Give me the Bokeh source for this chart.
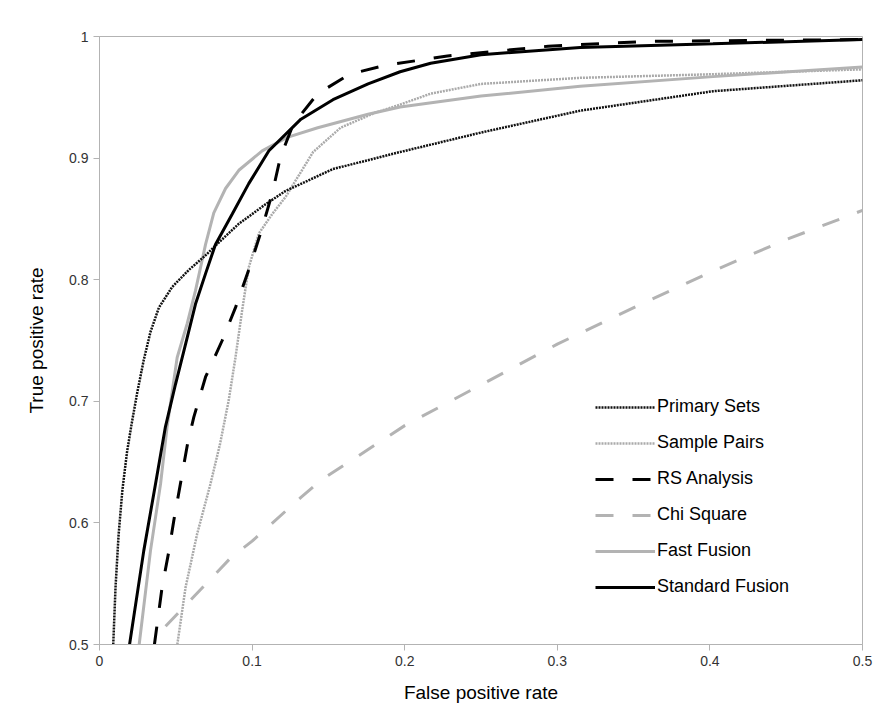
from bokeh.plotting import figure
from bokeh.models import Range1d, FixedTicker, CustomJSTickFormatter, Legend, LegendItem
from bokeh.embed import file_html
from bokeh.resources import INLINE

# ---- data ----
primary_x = [0.009, 0.0105, 0.0125, 0.015, 0.018, 0.021, 0.0247, 0.029, 0.0334, 0.0389, 0.0476, 0.0585, 0.0695, 0.076, 0.0913, 0.1088, 0.1219, 0.153, 0.197, 0.250, 0.315, 0.402, 0.500]
primary_y = [0.500, 0.547, 0.590, 0.627, 0.658, 0.681, 0.707, 0.734, 0.757, 0.777, 0.794, 0.808, 0.820, 0.828, 0.846, 0.862, 0.873, 0.891, 0.905, 0.921, 0.939, 0.955, 0.964]

sample_x = [0.051, 0.0564, 0.064, 0.0727, 0.079, 0.0847, 0.0891, 0.0935, 0.0978, 0.1044, 0.1132, 0.1219, 0.140, 0.158, 0.180, 0.197, 0.217, 0.250, 0.315, 0.402, 0.500]
sample_y = [0.500, 0.547, 0.591, 0.632, 0.665, 0.701, 0.736, 0.775, 0.810, 0.838, 0.854, 0.868, 0.905, 0.925, 0.937, 0.944, 0.953, 0.961, 0.966, 0.969, 0.973]

rs_x = [0.036, 0.041, 0.0455, 0.0487, 0.053, 0.0577, 0.0618, 0.0695, 0.0804, 0.0891, 0.0978, 0.1055, 0.1132, 0.1186, 0.127, 0.143, 0.164, 0.186, 0.228, 0.294, 0.359, 0.500]
rs_y = [0.500, 0.547, 0.577, 0.602, 0.632, 0.665, 0.687, 0.720, 0.750, 0.777, 0.808, 0.838, 0.871, 0.901, 0.928, 0.953, 0.969, 0.976, 0.984, 0.992, 0.996, 0.9975]

chi_x = [0.0433, 0.0858, 0.100, 0.132, 0.145, 0.200, 0.300, 0.355, 0.400, 0.450, 0.500]
chi_y = [0.515, 0.571, 0.585, 0.621, 0.635, 0.680, 0.747, 0.780, 0.806, 0.833, 0.857]

fast_x = [0.026, 0.0334, 0.040, 0.0443, 0.0509, 0.0575, 0.0629, 0.0695, 0.0749, 0.0826, 0.0913, 0.1066, 0.123, 0.143, 0.176, 0.197, 0.250, 0.315, 0.402, 0.500]
fast_y = [0.500, 0.577, 0.632, 0.679, 0.736, 0.764, 0.791, 0.829, 0.855, 0.875, 0.890, 0.906, 0.917, 0.925, 0.936, 0.942, 0.951, 0.959, 0.967, 0.975]

std_x = [0.0197, 0.029, 0.0367, 0.0432, 0.0498, 0.0564, 0.0629, 0.0695, 0.076, 0.087, 0.0978, 0.111, 0.132, 0.153, 0.176, 0.197, 0.217, 0.250, 0.315, 0.402, 0.500]
std_y = [0.500, 0.577, 0.632, 0.679, 0.714, 0.747, 0.780, 0.805, 0.829, 0.854, 0.879, 0.906, 0.932, 0.948, 0.961, 0.971, 0.978, 0.985, 0.991, 0.994, 0.9975]

x_ticks = [0, 0.1, 0.2, 0.3, 0.4, 0.5]
y_ticks = [0.5, 0.6, 0.7, 0.8, 0.9, 1.0]

series_names = ["Primary Sets", "Sample Pairs", "RS Analysis", "Chi Square", "Fast Fusion", "Standard Fusion"]

FONT = "Liberation Sans"
GRAY = "#b3b3b3"

p = figure(width=886, height=718, output_backend="svg", toolbar_location=None,
           x_range=Range1d(0, 0.5), y_range=Range1d(0.5, 1.0))
p.min_border_left = 99
p.min_border_right = 24
p.min_border_top = 36
p.min_border_bottom = 74
p.xgrid.visible = False
p.ygrid.visible = False
p.outline_line_color = GRAY
p.outline_line_width = 1
p.background_fill_color = "white"
p.border_fill_color = "white"

fmt = CustomJSTickFormatter(code="""
if (Math.abs(tick) < 1e-9) return '0';
if (Math.abs(tick - 1) < 1e-9) return '1';
return tick.toFixed(1);
""")

for ax, ticks in ((p.xaxis, x_ticks), (p.yaxis, y_ticks)):
    ax.ticker = FixedTicker(ticks=ticks)
    ax.formatter = fmt
    ax.axis_line_color = GRAY
    ax.major_tick_line_color = GRAY
    ax.minor_tick_line_color = None
    ax.major_tick_out = 6
    ax.major_tick_in = 0
    ax.major_label_text_font = FONT
    ax.major_label_text_font_size = "14px"
    ax.major_label_text_color = "#333333"
    ax.major_label_standoff = 5
    ax.axis_label_text_font = FONT
    ax.axis_label_text_font_size = "19px"
    ax.axis_label_text_font_style = "normal"
    ax.axis_label_text_color = "#000000"

p.xaxis.axis_label = "False positive rate"
p.yaxis.axis_label = "True positive rate"
p.xaxis.axis_label_standoff = 13
p.yaxis.axis_label_standoff = 19

r_chi = p.line(chi_x, chi_y, line_color=GRAY, line_width=3, line_dash="18 19")
r_sample = p.line(sample_x, sample_y, line_color="#aaaaaa", line_width=2.5, line_dash="2 1")
r_fast = p.line(fast_x, fast_y, line_color=GRAY, line_width=3)
r_primary = p.line(primary_x, primary_y, line_color="#111111", line_width=2.5, line_dash="2 1")
r_rs = p.line(rs_x, rs_y, line_color="#000000", line_width=3, line_dash="18 19")
r_std = p.line(std_x, std_y, line_color="#000000", line_width=3)

renderers = [r_primary, r_sample, r_rs, r_chi, r_fast, r_std]
legend = Legend(items=[LegendItem(label=n, renderers=[r]) for n, r in zip(series_names, renderers)],
                location=(496, 47))
legend.glyph_width = 60
legend.glyph_height = 20
legend.label_height = 20
legend.spacing = 15
legend.padding = 0
legend.margin = 0
legend.label_standoff = 2
legend.label_text_font = FONT
legend.label_text_font_size = "18px"
legend.label_text_color = "#000000"
legend.border_line_color = None
legend.background_fill_alpha = 0
p.add_layout(legend)

open("out.html", "w").write(file_html(p, INLINE))
